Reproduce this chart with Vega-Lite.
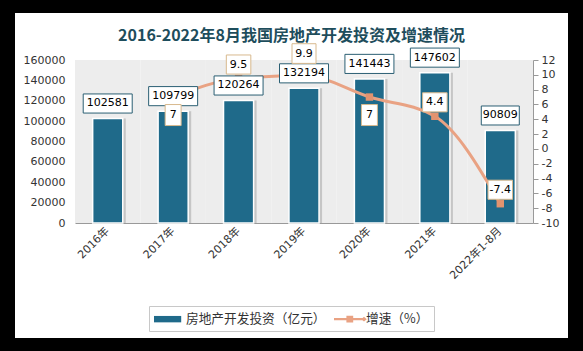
{
  "$schema": "https://vega.github.io/schema/vega-lite/v6.json",
  "width": 553,
  "height": 325,
  "autosize": {"type": "none"},
  "padding": {"left": 15, "top": 13, "right": 15, "bottom": 13},
  "background": "#000000",
  "view": {"fill": "#ffffff", "stroke": null},
  "title": {
    "text": "2016-2022年8月我国房地产开发投资及增速情况",
    "anchor": "middle",
    "frame": "group",
    "offset": -31,
    "fontSize": 16,
    "font": "Noto Sans CJK SC",
    "fontWeight": "bold",
    "color": "#1e4d5c"
  },
  "data": {
    "values": [
      {"year": "2016年", "invest": 102581, "growth": null},
      {"year": "2017年", "invest": 109799, "growth": 7},
      {"year": "2018年", "invest": 120264, "growth": 9.5},
      {"year": "2019年", "invest": 132194, "growth": 9.9},
      {"year": "2020年", "invest": 141443, "growth": 7},
      {"year": "2021年", "invest": 147602, "growth": 4.4},
      {"year": "2022年1-8月", "invest": 90809, "growth": -7.4}
    ]
  },
  "encoding": {
    "x": {
      "field": "year",
      "type": "nominal",
      "sort": null,
      "scale": {"range": [60, 518], "paddingInner": 0.54, "paddingOuter": 0.27, "round": false},
      "axis": {
        "title": null,
        "orient": "bottom",
        "offset": -115,
        "labelAngle": -45,
        "labelAlign": "right",
        "labelBaseline": "middle",
        "labelPadding": 6,
        "ticks": false,
        "domainColor": "#999999",
        "labelFont": "DejaVu Sans, Noto Sans CJK SC",
        "labelFontSize": 11,
        "labelColor": "#333333"
      }
    }
  },
  "layer": [
    {
      "encoding": {
        "y": {
          "field": "invest",
          "type": "quantitative",
          "scale": {"domain": [0, 160000], "range": [210, 47], "nice": false},
          "axis": {
            "title": null,
            "orient": "left",
            "offset": -60,
            "values": [0, 20000, 40000, 60000, 80000, 100000, 120000, 140000, 160000],
            "format": "d",
            "domain": false,
            "ticks": false,
            "grid": false,
            "labelPadding": 10,
            "labelFont": "DejaVu Sans",
            "labelFontSize": 11,
            "labelColor": "#333333"
          }
        }
      },
      "layer": [
        {
          "mark": {"type": "bar", "color": "#ededed", "width": {"band": 2.174}},
          "encoding": {
            "y": {
              "datum": 160000,
              "type": "quantitative",
              "scale": {"domain": [0, 160000], "range": [210, 47], "nice": false},
              "axis": {
                "title": null,
                "orient": "left",
                "offset": -60,
                "values": [0, 20000, 40000, 60000, 80000, 100000, 120000, 140000, 160000],
                "format": "d",
                "domain": false,
                "ticks": false,
                "grid": false,
                "labelPadding": 10,
                "labelFont": "DejaVu Sans",
                "labelFontSize": 11,
                "labelColor": "#333333"
              }
            },
            "y2": {"datum": 0}
          }
        },
        {
          "mark": {"type": "bar", "color": "#b5b5b5", "opacity": 0.7, "xOffset": 3}
        },
        {
          "mark": {"type": "bar", "stroke": "#ffffff", "strokeWidth": 1.5},
          "encoding": {
            "color": {
              "datum": "房地产开发投资（亿元）",
              "type": "nominal",
              "scale": {"domain": ["房地产开发投资（亿元）", "增速（%）"], "range": ["#1f6a8a", "#e9a283"]},
              "legend": {
                "title": null,
                "orient": "none",
                "legendX": 134,
                "legendY": 293,
                "direction": "horizontal",
                "symbolSize": 256,
                "symbolType": {"expr": "datum.value === '增速（%）' ? 'M-1,-0.13H2.75V0.13H-1Z M0.55,-0.42H1.4V0.42H0.55Z M2.75,-0.3L3.1,0L2.75,0.3L2.4,0Z' : 'M-1,-0.4H2.4V0.4H-1Z'"},
                "symbolStrokeWidth": 0,
                "symbolOpacity": 1,
                "labelOffset": 16,
                "columnPadding": 8,
                "padding": 5,
                "labelFont": "Noto Sans CJK SC",
                "labelFontSize": 12.7,
                "labelColor": "#333333",
                "strokeColor": "#c8c8c8",
                "fillColor": "#ffffff"
              }
            }
          }
        }
      ]
    },
    {
      "transform": [{"filter": "datum.growth != null"}],
      "encoding": {
        "y": {
          "field": "growth",
          "type": "quantitative",
          "scale": {"domain": [-10, 12], "range": [210, 47], "nice": false, "zero": false},
          "axis": {
            "title": null,
            "orient": "right",
            "offset": -35,
            "values": [-10, -8, -6, -4, -2, 0, 2, 4, 6, 8, 10, 12],
            "labelExpr": "'' + datum.value",
            "domain": true,
            "domainColor": "#999999",
            "ticks": true,
            "tickSize": 5,
            "tickColor": "#999999",
            "grid": false,
            "labelPadding": 3,
            "labelFont": "DejaVu Sans",
            "labelFontSize": 11,
            "labelColor": "#333333"
          }
        }
      },
      "layer": [
        {
          "mark": {"type": "line", "interpolate": "monotone", "strokeWidth": 3},
          "encoding": {"color": {"datum": "增速（%）", "type": "nominal"}}
        },
        {
          "mark": {"type": "point", "shape": "square", "filled": true, "size": 55, "color": "#e2936f", "opacity": 1}
        }
      ]
    },
    {
      "encoding": {
        "y": {
          "field": "invest",
          "type": "quantitative",
          "scale": {"domain": [0, 160000], "range": [210, 47], "nice": false},
          "axis": null
        }
      },
      "layer": [
        {
          "mark": {"type": "point", "filled": true, "fill": "#ffffff", "stroke": "#2b5f73", "strokeWidth": 1, "opacity": 1, "yOffset": -15},
          "encoding": {
            "shape": {"condition": {"test": "datum.invest < 100000", "value": "M-1,-0.5H1V0.5H-1Z"}, "value": "M-1,-0.39H1V0.39H-1Z"},
            "size": {"condition": {"test": "datum.invest < 100000", "value": 1444}, "value": 2401}
          }
        },
        {
          "mark": {"type": "text", "yOffset": -15, "baseline": "middle", "font": "DejaVu Sans", "fontSize": 11, "color": "#000000"},
          "encoding": {"text": {"field": "invest", "type": "nominal"}}
        }
      ]
    },
    {
      "transform": [{"filter": "datum.growth != null"}],
      "encoding": {
        "y": {
          "field": "growth",
          "type": "quantitative",
          "scale": {"domain": [-10, 12], "range": [210, 47], "nice": false, "zero": false},
          "axis": null
        }
      },
      "layer": [
        {
          "transform": [{"filter": "datum.year === '2017年' || datum.year === '2020年'"}],
          "layer": [
            {
              "mark": {"type": "point", "filled": true, "fill": "#ffffff", "stroke": "#d8b98e", "strokeWidth": 1, "opacity": 1, "yOffset": 18, "shape": "M-0.76,-1H0.76V1H-0.76Z", "size": 441}
            },
            {
              "mark": {"type": "text", "yOffset": 18, "baseline": "middle", "font": "DejaVu Sans", "fontSize": 11, "color": "#000000"},
              "encoding": {"text": {"field": "growth", "type": "nominal"}}
            }
          ]
        },
        {
          "transform": [{"filter": "datum.year === '2018年' || datum.year === '2021年' || datum.year === '2022年1-8月'"}],
          "layer": [
            {
              "mark": {"type": "point", "filled": true, "fill": "#ffffff", "stroke": "#d8b98e", "strokeWidth": 1, "opacity": 1, "yOffset": -14, "shape": "M-1,-0.78H1V0.78H-1Z", "size": 600}
            },
            {
              "mark": {"type": "text", "yOffset": -14, "baseline": "middle", "font": "DejaVu Sans", "fontSize": 11, "color": "#000000"},
              "encoding": {"text": {"field": "growth", "type": "nominal"}}
            }
          ]
        },
        {
          "transform": [{"filter": "datum.year === '2019年'"}],
          "layer": [
            {
              "mark": {"type": "point", "filled": true, "fill": "#ffffff", "stroke": "#d8b98e", "strokeWidth": 1, "opacity": 1, "yOffset": -22, "shape": "M-1,-0.82H1V0.82H-1Z", "size": 576}
            },
            {
              "mark": {"type": "text", "yOffset": -22, "baseline": "middle", "font": "DejaVu Sans", "fontSize": 11, "color": "#000000"},
              "encoding": {"text": {"field": "growth", "type": "nominal"}}
            }
          ]
        }
      ]
    }
  ],
  "resolve": {"scale": {"y": "independent"}}
}
